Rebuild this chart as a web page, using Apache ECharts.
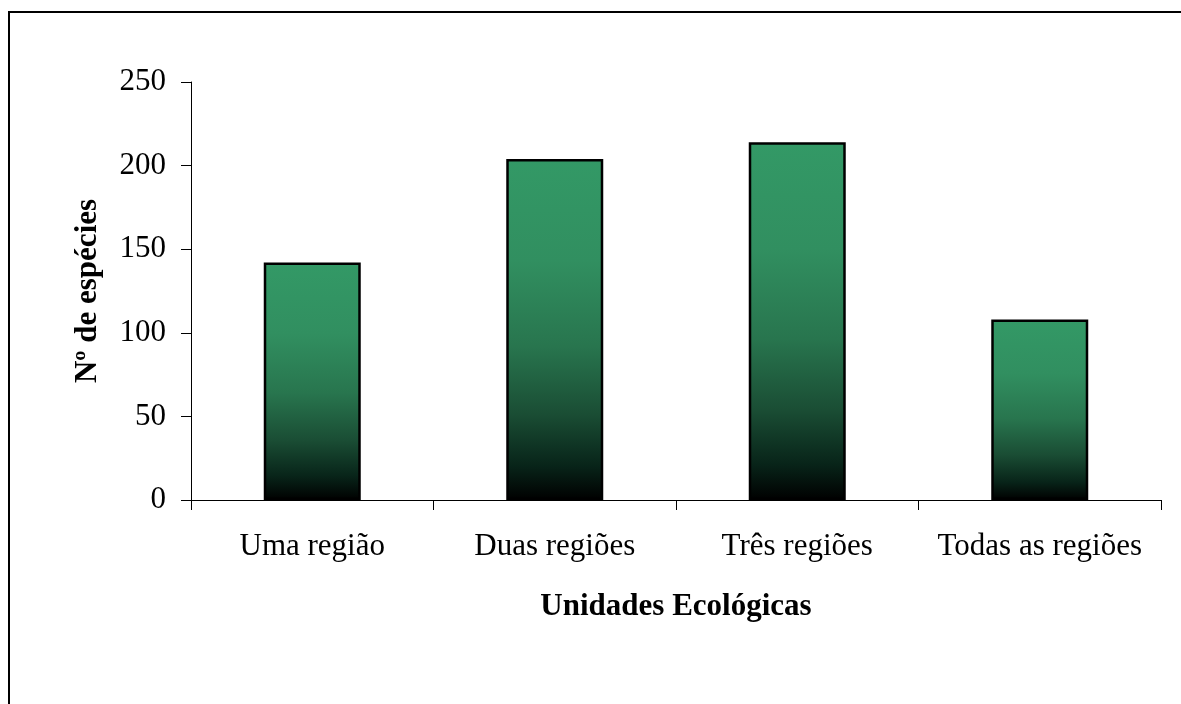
<!DOCTYPE html>
<html>
<head>
<meta charset="utf-8">
<script src="https://cdn.jsdelivr.net/npm/echarts@6/dist/echarts.min.js"></script>
<style>
html,body{margin:0;padding:0;background:#fff;}
#chart{width:1181px;height:704px;}
</style>
</head>
<body>
<div id="chart"></div>
<script>
var categories = ['Uma região', 'Duas regiões', 'Três regiões', 'Todas as regiões'];
var values = [142, 204, 214, 108];
var yTicks = [0, 50, 100, 150, 200, 250];
var xTitle = 'Unidades Ecológicas';
var yTitle = 'Nº de espécies';

var font = '"Liberation Serif", "Times New Roman", serif';
var chart = echarts.init(document.getElementById('chart'), null, {renderer: 'canvas'});
chart.setOption({
  backgroundColor: '#fff',
  animation: false,
  graphic: [{
    type: 'rect',
    shape: {x: 9, y: 12, width: 1300, height: 800},
    style: {fill: 'none', stroke: '#000', lineWidth: 2},
    silent: true
  }],
  grid: {left: 191, right: 20, top: 82, bottom: 204},
  xAxis: {
    type: 'category',
    data: categories,
    boundaryGap: true,
    axisLine: {lineStyle: {color: '#000', width: 1}},
    axisTick: {show: true, length: 10, alignWithLabel: false, lineStyle: {color: '#000'}},
    axisLabel: {color: '#000', fontFamily: font, fontSize: 31, margin: 31, interval: 0},
    name: xTitle,
    nameLocation: 'middle',
    nameGap: 91,
    nameTextStyle: {color: '#000', fontFamily: font, fontSize: 31, fontWeight: 'bold'}
  },
  yAxis: {
    type: 'value',
    min: yTicks[0],
    max: yTicks[yTicks.length - 1],
    interval: yTicks[1] - yTicks[0],
    axisLine: {show: true, lineStyle: {color: '#000', width: 1}},
    axisTick: {show: true, length: 10, lineStyle: {color: '#000'}},
    splitLine: {show: false},
    axisLabel: {color: '#000', fontFamily: font, fontSize: 31, margin: 25},
    name: yTitle,
    nameLocation: 'middle',
    nameGap: 88,
    nameRotate: 90,
    nameTextStyle: {color: '#000', fontFamily: font, fontSize: 31, fontWeight: 'bold'}
  },
  series: [{
    type: 'bar',
    data: values,
    barWidth: '40%',
    itemStyle: {
      borderColor: '#000',
      borderWidth: 2.5,
      color: new echarts.graphic.LinearGradient(0, 0, 0, 1, [
        {offset: 0, color: '#339966'},
        {offset: 0.3, color: '#318f60'},
        {offset: 0.55, color: '#28754e'},
        {offset: 0.75, color: '#1a4d34'},
        {offset: 0.9, color: '#082419'},
        {offset: 1, color: '#000000'}
      ])
    }
  }]
});
</script>
</body>
</html>
